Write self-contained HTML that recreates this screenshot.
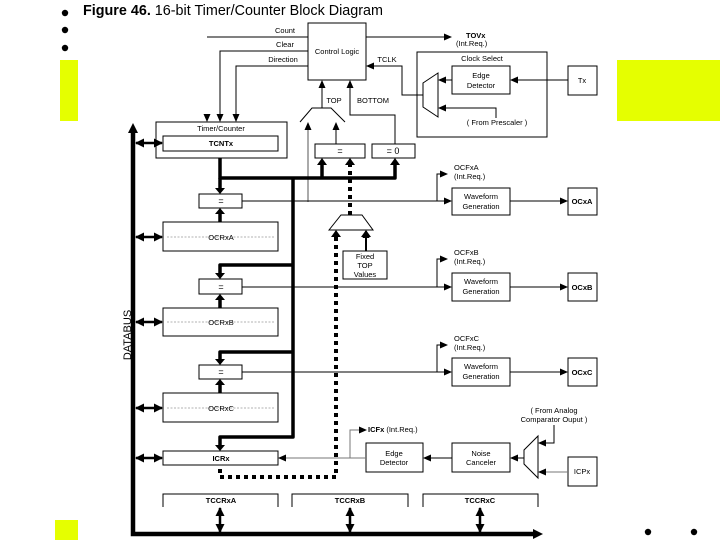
<!DOCTYPE html>
<html><head><meta charset="utf-8"><style>
html,body{margin:0;padding:0;background:#fff;}
svg{display:block;font-family:"Liberation Sans",sans-serif;}
</style></head><body>
<svg width="720" height="540" viewBox="0 0 720 540" xmlns="http://www.w3.org/2000/svg">
<defs>
<marker id="a" markerWidth="8" markerHeight="8" refX="7" refY="4" orient="auto" markerUnits="userSpaceOnUse"><path d="M0,0.5 L8,4 L0,7.5Z" fill="#000"/></marker>
<marker id="b" markerWidth="9" markerHeight="9" refX="8" refY="4.5" orient="auto-start-reverse" markerUnits="userSpaceOnUse"><path d="M0,0 L9,4.5 L0,9Z" fill="#000"/></marker>
</defs>
<rect x="60" y="60" width="18" height="61" fill="#e5ff00"/>
<rect x="617" y="60" width="103" height="61" fill="#e5ff00"/>
<rect x="55" y="520" width="23" height="20" fill="#e5ff00"/>
<circle cx="65" cy="13" r="3.2"/><circle cx="65" cy="30" r="3.2"/><circle cx="65" cy="48" r="3.2"/>
<circle cx="648" cy="532" r="3.2"/><circle cx="694" cy="532" r="3.2"/>
<text x="83" y="15" font-size="14.5" textLength="300" lengthAdjust="spacingAndGlyphs"><tspan font-weight="bold">Figure 46.</tspan>  16-bit Timer/Counter Block Diagram</text>

<g fill="none" stroke="#000" stroke-width="1">
<rect x="308" y="23" width="58" height="57"/>
<rect x="417" y="52" width="130" height="85"/>
<rect x="452" y="66" width="58" height="28"/>
<rect x="568" y="66" width="29" height="29"/>
<path d="M423,83 L438,73 L438,117 L423,107Z"/>
<rect x="156" y="122" width="131" height="36"/>
<rect x="163" y="136" width="115" height="15"/>
<path d="M300,122 L312,108 L331,108 L345,122"/>
<rect x="315" y="144" width="50" height="14"/>
<rect x="372" y="144" width="43" height="14"/>
<rect x="199" y="194" width="43" height="14"/>
<rect x="199" y="279" width="43" height="15"/>
<rect x="199" y="365" width="43" height="14"/>
<rect x="163" y="222" width="115" height="29"/>
<rect x="163" y="308" width="115" height="28"/>
<rect x="163" y="393" width="115" height="29"/>
<rect x="163" y="451" width="115" height="14"/>
<rect x="452" y="188" width="58" height="27"/>
<rect x="452" y="273" width="58" height="28"/>
<rect x="452" y="358" width="58" height="28"/>
<rect x="568" y="188" width="29" height="27"/>
<rect x="568" y="273" width="29" height="28"/>
<rect x="568" y="358" width="29" height="28"/>
<path d="M329,230 L341,215 L362,215 L373,230Z"/>
<rect x="343" y="251" width="44" height="28"/>
<rect x="366" y="443" width="57" height="29"/>
<rect x="452" y="443" width="58" height="29"/>
<path d="M524,450 L538,436 L538,478 L524,464Z"/>
<rect x="568" y="457" width="29" height="29"/>
<path d="M163,507 V494 H278 V507 M292,507 V494 H408 V507 M423,507 V494 H538 V507"/>
</g>
<g fill="none" stroke-width="0.6">
<path d="M167,237 H274 M167,322 H274 M167,408 H274" stroke-dasharray="2,1.5" stroke="#666"/>
</g>

<g fill="none" stroke="#000" stroke-width="1" marker-end="url(#a)">
<path d="M207,37 H308" marker-end="none"/>
<path d="M366,37 H451"/>
<path d="M308,51 H220 V121"/>
<path d="M308,66 H236 V121"/>
<path d="M207,117 V121"/>
<path d="M423,95 H402 V66 H367"/>
<path d="M568,80 H511"/>
<path d="M452,80 H439"/>
<path d="M496,118 V108 H439"/>
<path d="M322,108 V81"/>
<path d="M395,144 V115 H350 V81"/>
<path d="M336,144 V123"/>
<path d="M308,202 V123" stroke="#555"/>
<path d="M242,201 H437 V174 H447"/>
<path d="M437,201 H451"/>
<path d="M510,201 H567"/>
<path d="M242,287 H437 V259 H447"/>
<path d="M437,287 H451"/>
<path d="M510,287 H567"/>
<path d="M242,372 H437 V345 H447"/>
<path d="M437,372 H451"/>
<path d="M510,372 H567"/>
<path d="M366,458 H279" stroke="#777"/>
<path d="M350,458 V430 H366" stroke="#777"/>
<path d="M452,458 H424"/>
<path d="M524,458 H511"/>
<path d="M568,472 H539" stroke="#777"/>
<path d="M554,425 V443 H539"/>
<path d="M366,251 V231" stroke-width="2"/>
</g>

<g fill="none" stroke="#000" stroke-width="3.5" stroke-linejoin="round">
<path d="M220,158 V178 H395 V164"/>
<path d="M220,178 V188"/>
<path d="M293,178 V437 H220 V446"/>
<path d="M293,265 H220 V274"/>
<path d="M293,352 H220 V360"/>
<path d="M322,178 V164"/>
<path d="M220,222 V214"/>
<path d="M220,308 V299"/>
<path d="M220,393 V384"/>
</g>
<g fill="#000">
<path d="M215,188 L225,188 L220,194Z"/><path d="M215,273 L225,273 L220,279Z"/>
<path d="M215,359 L225,359 L220,365Z"/><path d="M215,445 L225,445 L220,451Z"/>
<path d="M317,165 L327,165 L322,158Z"/><path d="M390,165 L400,165 L395,158Z"/>
<path d="M345,165 L355,165 L350,158Z"/>
<path d="M215,214 L225,214 L220,208Z"/><path d="M215,300 L225,300 L220,294Z"/>
<path d="M215,385 L225,385 L220,379Z"/>
<path d="M331,237 L341,237 L336,230Z"/><path d="M361,237 L371,237 L366,230Z"/>
</g>
<g fill="none" stroke="#000" stroke-width="4" stroke-dasharray="4,4">
<path d="M350,215 V165"/>
<path d="M336,237 V477 H220 V466"/>
</g>

<g stroke="#000" fill="none">
<path d="M133,130 V534 H534" stroke-width="4.5"/>
</g>
<g fill="#000">
<path d="M128,133 L133,123 L138,133Z"/>
<path d="M533,529 L543,534 L533,539Z"/>
</g>
<g stroke="#000" stroke-width="2.5" marker-start="url(#b)" marker-end="url(#b)">
<path d="M136,143 H162"/><path d="M136,237 H162"/><path d="M136,322 H162"/>
<path d="M136,408 H162"/><path d="M136,458 H162"/>
<path d="M220,508 V532"/><path d="M350,508 V532"/><path d="M480,508 V532"/>
</g>

<g font-size="7.5" text-anchor="middle" fill="#000">
<text x="285" y="33">Count</text>
<text x="285" y="47">Clear</text>
<text x="283" y="62">Direction</text>
<text x="337" y="54">Control Logic</text>
<text x="466" y="38" text-anchor="start" font-weight="bold">TOVx</text>
<text x="456" y="46" text-anchor="start">(Int.Req.)</text>
<text x="387" y="62">TCLK</text>
<text x="482" y="61">Clock Select</text>
<text x="481" y="78">Edge</text>
<text x="481" y="88">Detector</text>
<text x="582" y="83">Tx</text>
<text x="497" y="125">( From Prescaler )</text>
<text x="334" y="103">TOP</text>
<text x="373" y="103">BOTTOM</text>
<text x="221" y="131">Timer/Counter</text>
<text x="221" y="146" font-weight="bold">TCNTx</text>
<text x="340" y="154" font-size="9">=</text>
<text x="393" y="154" font-size="9">= 0</text>
<text x="221" y="204" font-size="9">=</text>
<text x="221" y="290" font-size="9">=</text>
<text x="221" y="375" font-size="9">=</text>
<text x="221" y="240">OCRxA</text>
<text x="221" y="325">OCRxB</text>
<text x="221" y="411">OCRxC</text>
<text x="221" y="461" font-weight="bold">ICRx</text>
<text x="454" y="170" text-anchor="start">OCFxA</text>
<text x="454" y="179" text-anchor="start">(Int.Req.)</text>
<text x="454" y="255" text-anchor="start">OCFxB</text>
<text x="454" y="264" text-anchor="start">(Int.Req.)</text>
<text x="454" y="341" text-anchor="start">OCFxC</text>
<text x="454" y="350" text-anchor="start">(Int.Req.)</text>
<text x="481" y="199">Waveform</text><text x="481" y="209">Generation</text>
<text x="481" y="284">Waveform</text><text x="481" y="294">Generation</text>
<text x="481" y="369">Waveform</text><text x="481" y="379">Generation</text>
<text x="582" y="204" font-weight="bold">OCxA</text>
<text x="582" y="290" font-weight="bold">OCxB</text>
<text x="582" y="375" font-weight="bold">OCxC</text>
<text x="365" y="259">Fixed</text><text x="365" y="268">TOP</text><text x="365" y="277">Values</text>
<text x="368" y="432" text-anchor="start"><tspan font-weight="bold">ICFx</tspan> (Int.Req.)</text>
<text x="394" y="456">Edge</text><text x="394" y="465">Detector</text>
<text x="481" y="456">Noise</text><text x="481" y="465">Canceler</text>
<text x="582" y="474">ICPx</text>
<text x="554" y="413">( From Analog</text>
<text x="554" y="422">Comparator Ouput )</text>
<text x="221" y="503" font-weight="bold">TCCRxA</text>
<text x="350" y="503" font-weight="bold">TCCRxB</text>
<text x="480" y="503" font-weight="bold">TCCRxC</text>
<text transform="translate(131,335) rotate(-90)" font-size="11">DATABUS</text>
</g>
</svg>
</body></html>
